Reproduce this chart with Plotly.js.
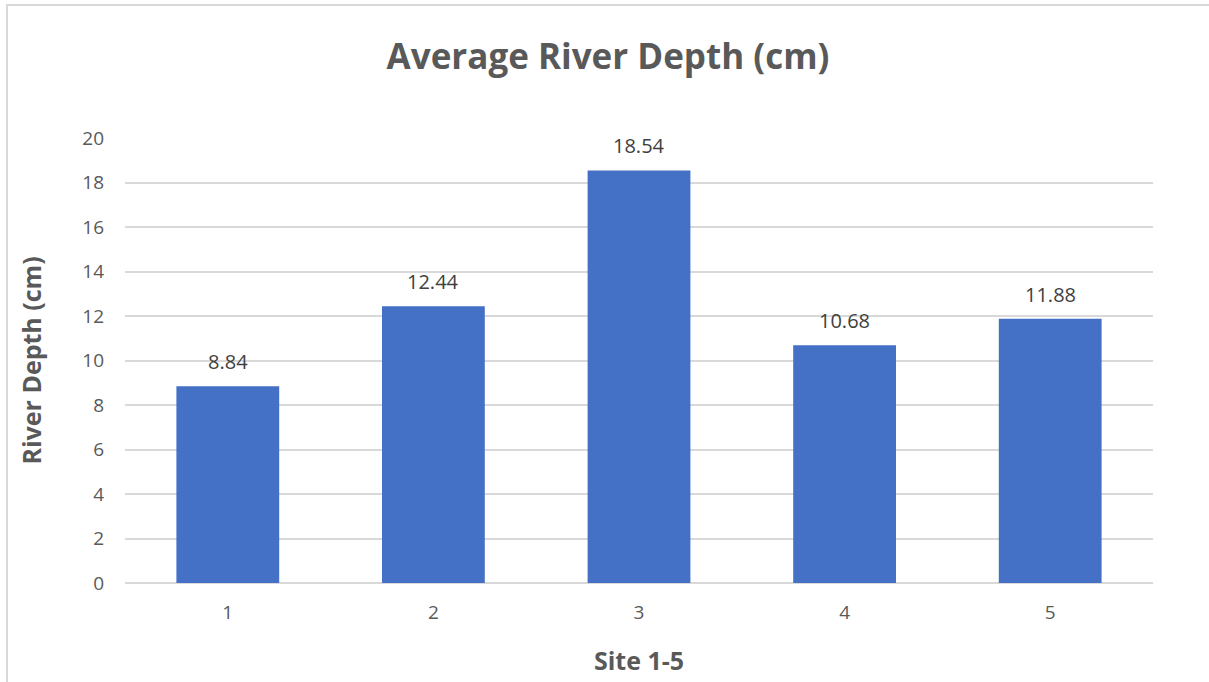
<!DOCTYPE html>
<html>
<head>
<meta charset="utf-8">
<script src="https://cdn.plot.ly/plotly-3.0.1.min.js"></script>
<style>
  html, body { margin: 0; padding: 0; background: #fff; }
  #frame { position: absolute; left: 6px; top: 4px; width: 1203px; height: 678px;
           border-top: 2px solid #d9d9d9; border-left: 2px solid #d9d9d9; box-sizing: border-box; }
  #chart { position: absolute; left: 0; top: 0; width: 1209px; height: 682px; }
</style>
</head>
<body>
<div id="frame"></div>
<div id="chart"></div>
<script>
const sites = ['1', '2', '3', '4', '5'];
const depths = [8.84, 12.44, 18.54, 10.68, 11.88];
const depthLabels = ['8.84', '12.44', '18.54', '10.68', '11.88'];
const yTicks = [0, 2, 4, 6, 8, 10, 12, 14, 16, 18, 20];

const FONT = '"Open Sans", "Liberation Sans", sans-serif';

const trace = {
  type: 'bar',
  x: sites,
  y: depths,
  width: 0.5,
  marker: { color: '#4471C6', line: { width: 0 } },
  hoverinfo: 'x+y'
};

const annotations = sites.map((s, i) => ({
  x: i, y: depths[i], xref: 'x', yref: 'y',
  text: depthLabels[i], showarrow: false,
  yanchor: 'bottom', yshift: 9,
  font: { family: FONT, size: 20, color: '#404040' }
}));

const layout = {
  width: 1209, height: 682,
  paper_bgcolor: 'rgba(0,0,0,0)', plot_bgcolor: 'rgba(0,0,0,0)',
  margin: { l: 125, r: 56, t: 138, b: 99 },
  showlegend: false,
  title: {
    text: '<b>Average River Depth (cm)</b>',
    font: { family: FONT, size: 35, color: '#595959' },
    x: 608 / 1209, xanchor: 'center', xref: 'container',
    y: 1 - 57 / 682, yanchor: 'middle', yref: 'container'
  },
  xaxis: {
    type: 'category',
    range: [-0.5, 4.5],
    tickfont: { family: FONT, size: 19, color: '#595959' },
    ticks: '', showline: false, showgrid: false, ticklabelstandoff: 16,
    title: { text: '<b>Site 1-5</b>', font: { family: FONT, size: 25, color: '#595959' }, standoff: 28 }
  },
  yaxis: {
    range: [0, 20], tickvals: yTicks,
    tickfont: { family: FONT, size: 19, color: '#595959' },
    gridcolor: '#d9d9d9', gridwidth: 2,
    zeroline: true, zerolinecolor: '#d9d9d9', zerolinewidth: 2,
    ticks: '', showline: false, ticklabelstandoff: 20,
    title: { text: '<b>River Depth (cm)</b>', font: { family: FONT, size: 25, color: '#595959' }, standoff: 33 }
  },
  annotations: annotations
};

Plotly.newPlot('chart', [trace], layout, { displayModeBar: false, staticPlot: true });
</script>
</body>
</html>
